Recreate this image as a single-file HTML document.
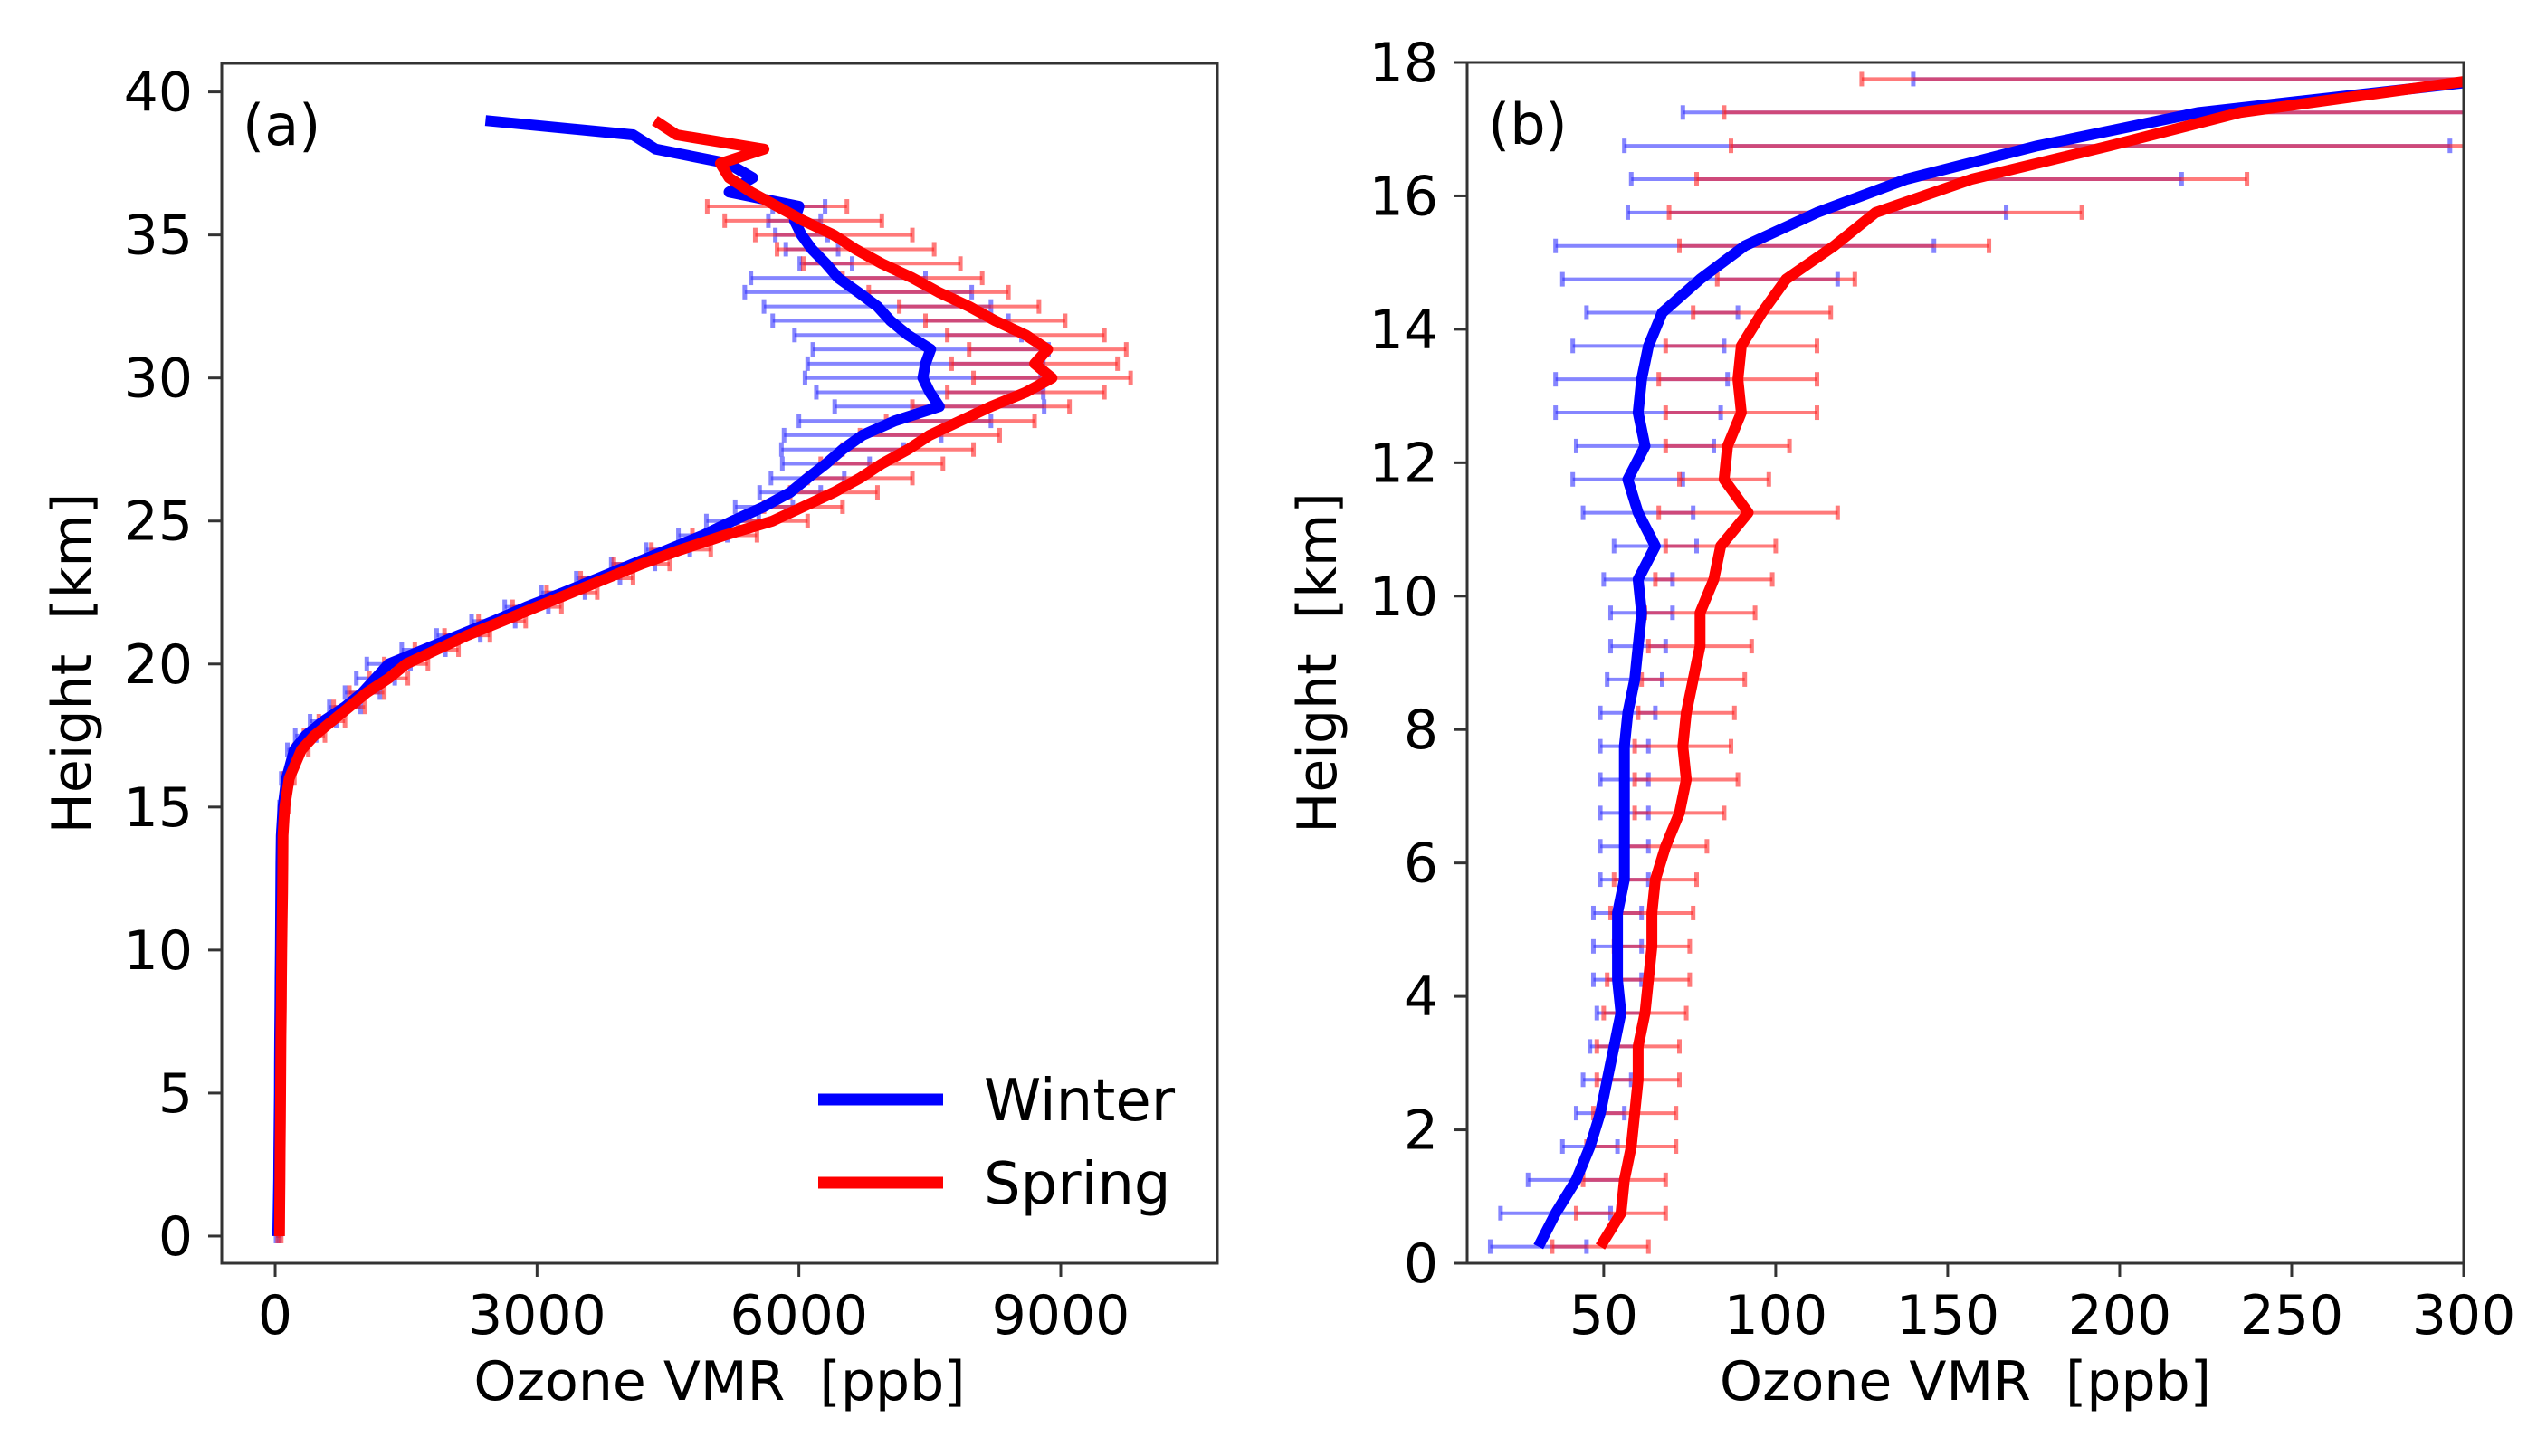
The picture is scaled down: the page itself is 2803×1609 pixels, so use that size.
<!DOCTYPE html>
<html><head><meta charset="utf-8"><style>
html,body{margin:0;padding:0;background:#fff}
svg{display:block}
text{font-family:"DejaVu Sans","Liberation Sans",sans-serif;fill:#000}
</style></head><body>
<svg id="chart" width="2803" height="1609" viewBox="0 0 2803 1609" xmlns="http://www.w3.org/2000/svg">
<rect width="2803" height="1609" fill="#fff"/>
<g id="pa"></g>
<g id="pb"></g>
</svg>
<script>
// Panel (a) data
const heightsA = [0,1,2,3,4,5,6,7,8,9,10,11,12,13,14,15,16,17,17.5,18,18.5,19,19.5,20,20.5,21,21.5,22,22.5,23,23.5,24,24.5,25,25.5,26,26.5,27,27.5,28,28.5,29,29.5,30,30.5,31,31.5,32,32.5,33,33.5,34,34.5,35,35.5,36,36.5,37,37.5,38,38.5,39];
const winterA = [30,35,40,42,45,48,50,52,55,57,60,62,64,66,70,90,130,220,350,550,800,1000,1150,1300,1700,2100,2500,2880,3300,3700,4100,4500,4900,5240,5600,5900,6100,6310,6500,6730,7100,7610,7500,7420,7450,7510,7250,7050,6900,6680,6450,6310,6150,6030,5950,6000,5200,5470,5190,4360,4100,2410];
const springA = [50,52,55,57,60,62,64,66,70,72,75,80,85,88,90,110,160,300,450,650,850,1050,1300,1500,1850,2200,2600,3000,3400,3800,4200,4650,5150,5700,6050,6400,6700,6950,7250,7500,7850,8200,8600,8900,8700,8850,8600,8250,7950,7600,7300,6950,6650,6400,6050,5750,5450,5200,5100,5600,4600,4350];
const winterErrA = [20,20,20,20,20,20,20,20,20,20,20,20,20,20,30,40,60,80,120,150,180,200,220,250,250,250,250,250,250,250,250,250,280,300,330,350,420,500,700,900,1100,1200,1300,1350,1350,1350,1300,1350,1300,1300,1000,300,300,300,300,300,0,0,0,0,0,0];
const springErrA = [20,20,20,20,20,20,20,20,20,20,20,20,20,20,30,40,60,80,120,150,180,200,220,250,250,260,270,280,290,300,320,340,370,400,450,500,600,700,750,800,850,900,900,900,950,900,900,800,800,800,800,900,900,900,900,800,0,0,0,0,0,0];
const xTicksA = [0,3000,6000,9000];
const yTicksA = [0,5,10,15,20,25,30,35,40];
// Panel (b) data
const heightsB = [0.25,0.75,1.25,1.75,2.25,2.75,3.25,3.75,4.25,4.75,5.25,5.75,6.25,6.75,7.25,7.75,8.25,8.75,9.25,9.75,10.25,10.75,11.25,11.75,12.25,12.75,13.25,13.75,14.25,14.75,15.25,15.75,16.25,16.75,17.25,17.75];
const winterB = [31,36,42,46,49,51,53,55,54,54,54,56,56,56,56,56,57,59,60,61,60,65,60,57,62,60,61,63,67,78,91,112,138,176,223,310];
const springB = [49,55,56,58,59,60,60,62,63,64,64,65,68,72,74,73,74,76,78,78,82,84,92,85,86,90,89,90,96,103,117,129,157,197,235,305];
const winterErrB = [14,16,14,8,7,7,7,7,7,7,7,7,7,7,7,7,8,8,8,9,10,12,16,16,20,24,25,22,22,40,55,55,80,120,150,170];
const springErrB = [14,13,12,13,12,12,12,12,12,11,12,12,12,13,15,14,14,15,15,16,17,16,26,13,18,22,23,22,20,20,45,60,80,110,150,180];
const xTicksB = [50,100,150,200,250,300];
const yTicksB = [0,2,4,6,8,10,12,14,16,18];

const NS = 'http://www.w3.org/2000/svg';
function mk(parent, tag, attrs){const e=document.createElementNS(NS,tag);for(const k in attrs)e.setAttribute(k,attrs[k]);parent.appendChild(e);return e;}

function panel(g, box, xd, yd, xt, yt, series, label, pfx){
  const sx=v=>box.l+(v-xd[0])/(xd[1]-xd[0])*(box.r-box.l);
  const sy=v=>box.b-(v-yd[0])/(yd[1]-yd[0])*(box.b-box.t);
  const defs=mk(g,'clipPath',{id:'clip'+pfx});
  mk(defs,'rect',{x:box.l,y:box.t,width:box.r-box.l,height:box.b-box.t});
  const plot=mk(g,'g',{'clip-path':'url(#clip'+pfx+')'});
  // error bars
  series.forEach(s=>{
    const eg=mk(plot,'g',{});
    
    
    s.h.forEach((h,i)=>{
      const e=s.e[i]; if(!e) return;
      const y=sy(h), x1=sx(s.v[i]-e), x2=sx(s.v[i]+e);
      const ln=mk(eg,'line',{x1:x1,x2:x2,y1:y,y2:y,stroke:s.ec,'stroke-width':4,'stroke-opacity':0.6});
      
      
      [x1,x2].forEach(x=>{mk(eg,'line',{x1:x,x2:x,y1:y-8,y2:y+8,stroke:s.ec,'stroke-width':5,'stroke-opacity':0.6});});
    });
  });
  series.forEach(s=>{
    const pts=s.h.map((h,i)=>sx(s.v[i]).toFixed(1)+','+sy(h).toFixed(1)).join(' ');
    const pl=mk(plot,'polyline',{points:pts,fill:'none',stroke:s.c,'stroke-width':12,'stroke-linejoin':'round'});
    
    
  });
  // frame
  const fr=mk(g,'rect',{x:box.l,y:box.t,width:box.r-box.l,height:box.b-box.t,fill:'none',stroke:'#333','stroke-width':3});
  
  
  xt.forEach(v=>{
    const x=sx(v);
    mk(g,'line',{x1:x,x2:x,y1:box.b,y2:box.b+15,stroke:'#333','stroke-width':3});
    const t=mk(g,'text',{x:x,y:box.b+78,'text-anchor':'middle','font-size':60});
    t.textContent=v;
    
    
  });
  yt.forEach(v=>{
    const y=sy(v);
    mk(g,'line',{x1:box.l-15,x2:box.l,y1:y,y2:y,stroke:'#333','stroke-width':3});
    const t=mk(g,'text',{x:box.l-32,y:y+21,'text-anchor':'end','font-size':60});
    t.textContent=v;
    
    
  });
  const xl=mk(g,'text',{x:(box.l+box.r)/2,y:1547,'text-anchor':'middle','font-size':60});
  xl.textContent='Ozone VMR\u00a0\u00a0[ppb]';
  
  
  const yl=mk(g,'text',{x:0,y:0,'text-anchor':'middle','font-size':60,transform:'translate('+(box.l-145)+','+((box.t+box.b)/2)+') rotate(-90)'});
  yl.textContent='Height\u00a0\u00a0[km]';
  
  
  const pl=mk(g,'text',{x:box.l+23,y:box.t+90,'font-size':62});
  pl.textContent=label;
  
  
}

panel(document.getElementById('pa'),{l:245,r:1345,t:70,b:1396},[-612,10794],[-0.95,41.0],xTicksA,yTicksA,
  [{name:'winter',h:heightsA,v:winterA,e:winterErrA,c:'#0000ff',ec:'#3333ff'},
   {name:'spring',h:heightsA,v:springA,e:springErrA,c:'#ff0000',ec:'#ff2222'}],'(a)','panel-a');
panel(document.getElementById('pb'),{l:1621,r:2722,t:69,b:1396},[10.3,300],[0,18],xTicksB,yTicksB,
  [{name:'winter',h:heightsB,v:winterB,e:winterErrB,c:'#0000ff',ec:'#3333ff'},
   {name:'spring',h:heightsB,v:springB,e:springErrB,c:'#ff0000',ec:'#ff2222'}],'(b)','panel-b');

// legend
const pa=document.getElementById('pa');
const leg=mk(pa,'g',{});


[['Winter','#0000ff',1215],['Spring','#ff0000',1307]].forEach(([n,c,y])=>{
  const l=mk(leg,'line',{x1:904,x2:1042,y1:y,y2:y,stroke:c,'stroke-width':13});
  
  
  const t=mk(leg,'text',{x:1087,y:y+23,'font-size':64});
  t.textContent=n;
  
  
});
</script>
</body></html>
